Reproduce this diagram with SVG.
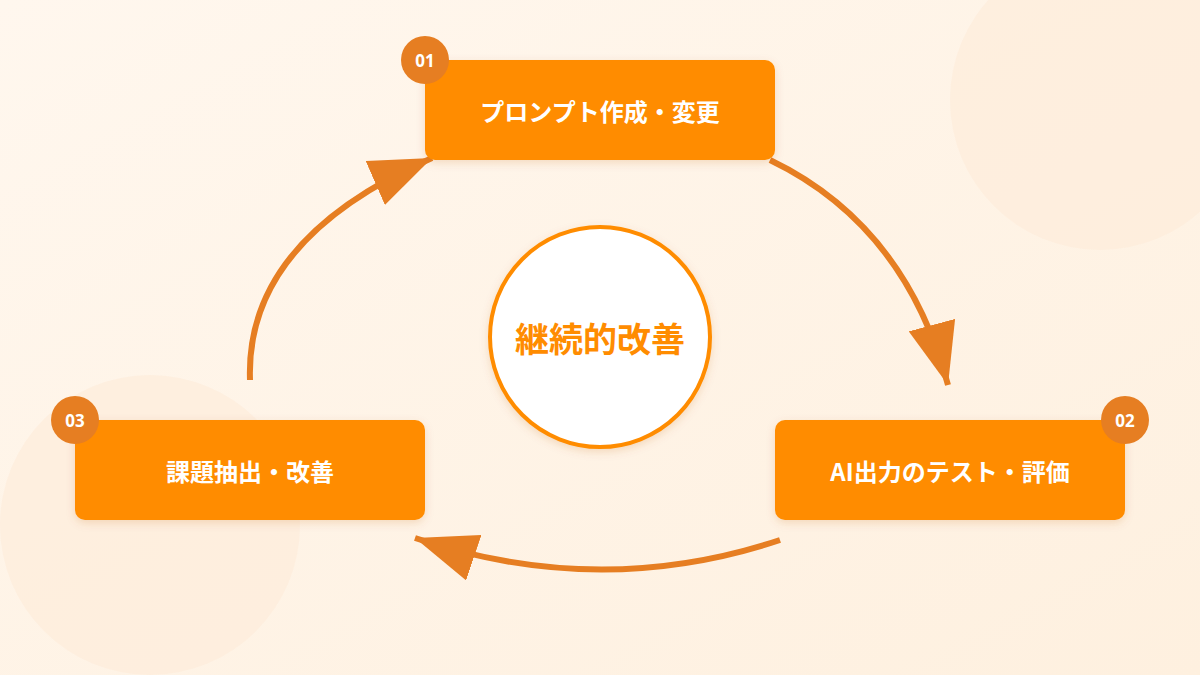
<svg xmlns="http://www.w3.org/2000/svg" width="1200" height="675" viewBox="0 0 1200 675">
<defs>
<linearGradient id="bg" x1="0" y1="0" x2="1" y2="1"><stop offset="0" stop-color="#FFF7EE"/><stop offset="1" stop-color="#FEF0DF"/></linearGradient>
<marker id="ah" markerUnits="userSpaceOnUse" markerWidth="64" markerHeight="48" refX="62" refY="24" orient="auto"><path d="M0,0 L62,24 L0,48 Z" fill="#E67E22"/></marker>
<filter id="sh" x="-20%" y="-20%" width="140%" height="150%"><feDropShadow dx="0" dy="3" stdDeviation="4" flood-color="#C06000" flood-opacity="0.18"/></filter>
</defs>
<style>
.box{fill:#FF8C00;filter:url(#sh)}
.badge{fill:#E67E22}
.lbl{font-family:"Noto Sans CJK JP","Noto Sans",sans-serif;font-weight:700;font-size:24px;fill:#fff;text-anchor:middle;dominant-baseline:central}
.num{font-family:"Noto Sans","Liberation Sans",sans-serif;font-weight:700;font-size:17px;fill:#fff;text-anchor:middle;dominant-baseline:central}
.c{fill:none;stroke:#E67E22;stroke-width:6;marker-end:url(#ah)}
</style>
<rect width="1200" height="675" fill="url(#bg)"/>
<circle cx="1100" cy="100" r="150" fill="#FDEBD8" opacity="0.6"/>
<circle cx="150" cy="525" r="150" fill="#FDEBD8" opacity="0.6"/>
<g id="connectors">
<path class="c" d="M770,160 Q905,225 948,385"/>
<path class="c" d="M780,540 Q600,600 415,538"/>
<path class="c" d="M250,380 Q245,240 432,158"/>
</g>
<g id="center">
<circle cx="600" cy="337" r="110" fill="#fff" stroke="#FF8C00" stroke-width="4" filter="url(#sh)"/>
<text x="600" y="337" font-family="Noto Sans CJK JP,sans-serif" font-weight="700" font-size="34" fill="#FF8C00" text-anchor="middle" dominant-baseline="central">継続的改善</text>
</g>
<g id="step1">
<rect class="box" x="425" y="60" width="350" height="100" rx="10"/>
<text class="lbl" x="600" y="110">プロンプト作成・変更</text>
<circle class="badge" cx="425" cy="60" r="24"/><text class="num" x="425" y="60">01</text>
</g>
<g id="step2">
<rect class="box" x="775" y="420" width="350" height="100" rx="10"/>
<text class="lbl" x="950" y="470">AI出力のテスト・評価</text>
<circle class="badge" cx="1125" cy="420" r="24"/><text class="num" x="1125" y="420">02</text>
</g>
<g id="step3">
<rect class="box" x="75" y="420" width="350" height="100" rx="10"/>
<text class="lbl" x="250" y="470">課題抽出・改善</text>
<circle class="badge" cx="75" cy="420" r="24"/><text class="num" x="75" y="420">03</text>
</g>
</svg>
